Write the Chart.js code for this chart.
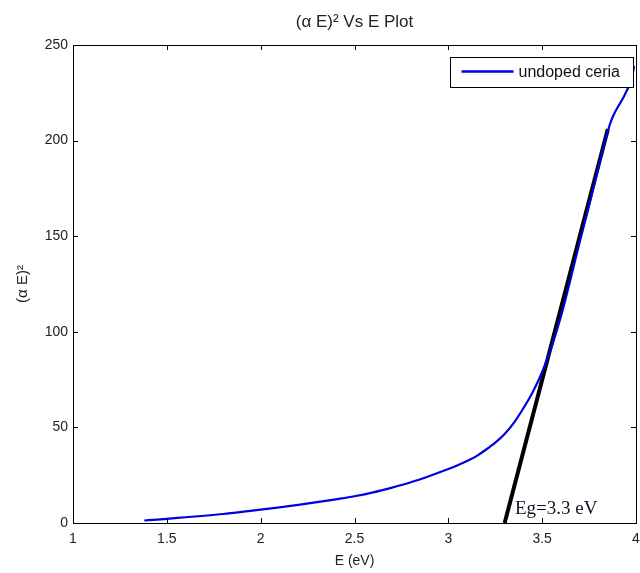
<!DOCTYPE html>
<html>
<head>
<meta charset="utf-8">
<title>(α E)² Vs E Plot</title>
<script src="https://cdn.jsdelivr.net/npm/chart.js@4/dist/chart.umd.min.js"></script>
<style>
    html, body { margin: 0; padding: 0; background: #fff; }
    #wrap { width: 640px; height: 573px; }
</style>
</head>
<body>
<div id="wrap"><canvas id="myChart"></canvas></div>
<script>
// measured data, undoped ceria
const energy = [1.38, 1.45, 1.5, 1.6, 1.7, 1.8, 1.9, 2.0, 2.1, 2.2, 2.3, 2.4, 2.5, 2.6, 2.7, 2.8, 2.9, 3.0,
    3.05, 3.1, 3.15, 3.2, 3.25, 3.3, 3.35, 3.4, 3.45, 3.5, 3.55, 3.6, 3.65, 3.7, 3.75, 3.8, 3.85,
    3.87, 3.9, 3.93, 3.95, 3.97, 3.98, 3.99];
const alphaE2 = [1.3, 1.8, 2.2, 3.0, 3.8, 4.7, 5.8, 7.0, 8.2, 9.5, 10.9, 12.4, 14.0, 16.0, 18.5, 21.3, 24.6, 28.2,
    30.2, 32.4, 35.0, 38.3, 42.0, 46.5, 52.5, 60, 68.5, 79, 92, 108, 127, 147, 166, 186, 205,
    211, 217, 222, 226, 230, 234, 239];

// tangent used for the band gap
const fitEnergy = [3.30, 3.85];
const fitValues = [0, 206];

const xTicks = [1, 1.5, 2, 2.5, 3, 3.5, 4];
const yTicks = [0, 50, 100, 150, 200, 250];

const seriesLabel = 'undoped ceria';
const gapLabel = 'Eg=3.3 eV';

function toPoints(xs, ys) {
    return xs.map((x, i) => ({ x: x, y: ys[i] }));
}

// box + inward ticks on all four sides, matlab style
const framePlugin = {
    id: 'frame',
    afterDatasetsDraw(chart) {
        const { ctx, chartArea: a, scales } = chart;
        const len = 5;
        ctx.save();
        ctx.strokeStyle = '#000';
        ctx.lineWidth = 1;
        ctx.beginPath();
        scales.x.ticks.forEach((t) => {
            const px = Math.round(scales.x.getPixelForValue(t.value)) + 0.5;
            ctx.moveTo(px, a.bottom);
            ctx.lineTo(px, a.bottom - len);
            ctx.moveTo(px, a.top);
            ctx.lineTo(px, a.top + len);
        });
        scales.y.ticks.forEach((t) => {
            const py = Math.round(scales.y.getPixelForValue(t.value)) + 0.5;
            ctx.moveTo(a.left, py);
            ctx.lineTo(a.left + len, py);
            ctx.moveTo(a.right, py);
            ctx.lineTo(a.right - len, py);
        });
        ctx.stroke();
        ctx.strokeRect(Math.round(a.left) + 0.5, Math.round(a.top) + 0.5,
            Math.round(a.right - a.left), Math.round(a.bottom - a.top));

        // band gap text
        ctx.fillStyle = '#141428';
        ctx.font = '19px "Liberation Serif", "Times New Roman", serif';
        ctx.textAlign = 'left';
        ctx.textBaseline = 'alphabetic';
        ctx.fillText(gapLabel, scales.x.getPixelForValue(3.355), scales.y.getPixelForValue(4.7));
        ctx.restore();
    },
    afterDraw(chart) {
        // legend box in the top right corner of the axes
        const { ctx, chartArea: a } = chart;
        const ds = chart.data.datasets[0];
        const w = 183, h = 30;
        const x0 = Math.round(a.right - 3 - w) + 0.5;
        const y0 = Math.round(a.top + 12) + 0.5;
        ctx.save();
        ctx.fillStyle = '#fff';
        ctx.fillRect(x0, y0, w, h);
        ctx.strokeStyle = '#000';
        ctx.lineWidth = 1;
        ctx.strokeRect(x0, y0, w, h);
        ctx.strokeStyle = ds.borderColor;
        ctx.lineWidth = 2.5;
        ctx.beginPath();
        ctx.moveTo(x0 + 11, y0 + 14);
        ctx.lineTo(x0 + 63, y0 + 14);
        ctx.stroke();
        ctx.fillStyle = '#111';
        ctx.font = '16px "Liberation Sans", Arial, sans-serif';
        ctx.textBaseline = 'middle';
        ctx.fillText(ds.label, x0 + 68, y0 + 15);
        ctx.restore();
    }
};

const tickFont = { family: '"Liberation Sans", Arial, sans-serif', size: 14 };

const ctx = document.getElementById('myChart').getContext('2d');
const chart = new Chart(ctx, { //eslint-disable-line
    type: 'line',
    data: {
        datasets: [{
            label: seriesLabel,
            data: toPoints(energy, alphaE2),
            borderColor: '#0000e0',
            borderWidth: 2.2,
            pointRadius: 0,
            cubicInterpolationMode: 'monotone',
            fill: false,
        }, {
            label: 'fit',
            data: toPoints(fitEnergy, fitValues),
            borderColor: '#000',
            borderWidth: 4,
            pointRadius: 0,
            fill: false,
        }]
    },
    options: {
        responsive: true,
        maintainAspectRatio: false,
        animation: false,
        devicePixelRatio: 1,
        layout: { padding: { left: 0, right: 0, top: 0, bottom: 0 } },
        plugins: {
            legend: { display: false },
            tooltip: { enabled: false },
            title: {
                display: true,
                fullSize: false,
                text: '(α E)² Vs E Plot',
                color: '#222',
                font: { family: '"Liberation Sans", Arial, sans-serif', size: 17, weight: 'normal' },
                padding: { top: 12, bottom: 12.6 },
            },
        },
        scales: {
            x: {
                type: 'linear',
                min: 1,
                max: 4,
                afterBuildTicks: (s) => { s.ticks = xTicks.map((v) => ({ value: v })); },
                afterFit: (s) => {
                    s.height = 50;
                    s.paddingLeft = 0;
                    s.paddingRight = 4;
                },
                grid: { drawOnChartArea: false, drawTicks: false },
                border: { color: '#000' },
                ticks: {
                    color: '#222',
                    font: tickFont,
                    padding: 8,
                    maxRotation: 0,
                    callback: (v) => String(v),
                },
                title: {
                    display: true,
                    text: 'E (eV)',
                    color: '#222',
                    font: tickFont,
                    padding: { top: 0, bottom: 3 },
                },
            },
            y: {
                min: 0,
                max: 250,
                afterBuildTicks: (s) => { s.ticks = yTicks.map((v) => ({ value: v })); },
                afterFit: (s) => { s.width = 73; },
                grid: { drawOnChartArea: false, drawTicks: false },
                border: { color: '#000' },
                ticks: { color: '#222', font: tickFont, padding: 5 },
                title: {
                    display: true,
                    text: '(α E)²',
                    color: '#222',
                    font: { family: '"Liberation Sans", Arial, sans-serif', size: 15 },
                    padding: { top: 14, bottom: 0 },
                },
            }
        }
    },
    plugins: [framePlugin]
});
</script>
</body>
</html>
